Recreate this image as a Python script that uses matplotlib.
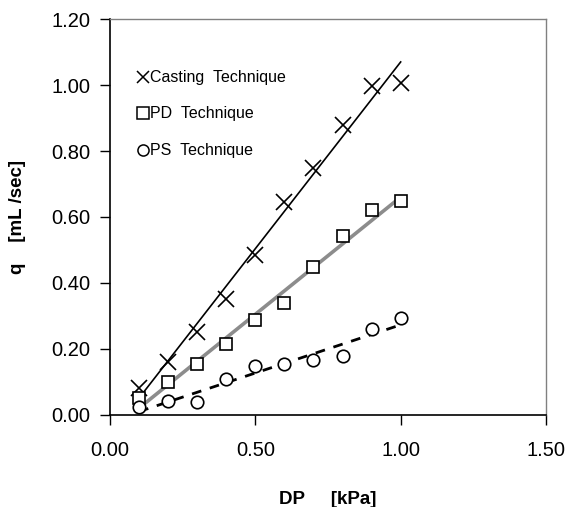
import numpy as np
import matplotlib
matplotlib.use('Agg')
import matplotlib.pyplot as plt

plt.rcParams['font.family'] = ['Liberation Sans', 'DejaVu Sans']

# pressure drop DP [kPa]
dp = [0.1, 0.2, 0.3, 0.4, 0.5, 0.6, 0.7, 0.8, 0.9, 1.0]

# flow rate q [mL/sec] for each technique
q_casting = [0.083, 0.16, 0.25, 0.35, 0.485, 0.645, 0.75, 0.88, 0.998, 1.005]
q_pd = [0.05, 0.10, 0.155, 0.214, 0.287, 0.340, 0.448, 0.543, 0.621, 0.648]
q_ps = [0.024, 0.042, 0.040, 0.110, 0.149, 0.154, 0.167, 0.179, 0.260, 0.293]

labels = ['Casting  Technique', 'PD  Technique', 'PS  Technique']

fig = plt.figure(figsize=(5.69, 5.07), dpi=100)
ax = fig.add_axes([0.1933, 0.1815, 0.7663, 0.781])

x = np.array(dp)

# linear trend lines
def trend(y):
    k, b = np.polyfit(x, y, 1)
    return k * x + b

ax.plot(x, trend(q_casting), color='black', lw=1.2, zorder=2)
ax.plot(x, trend(q_pd), color='#8c8c8c', lw=2.6, zorder=2)
ax.plot(x, trend(q_ps), color='black', lw=2.0, dashes=(3.5, 3.2), zorder=2)

ax.plot(x, q_casting, ls='none', marker='x', ms=11, mew=1.2, color='black', zorder=3)
ax.plot(x, q_pd, ls='none', marker='s', ms=9, mew=1.2, mfc='white', mec='black', zorder=3)
ax.plot(x, q_ps, ls='none', marker='o', ms=9, mew=1.2, mfc='white', mec='black', zorder=3)

# legend drawn as text with markers
leg_y = [1.024, 0.915, 0.803]
for lab, mk, yy in zip(labels, ['x', 's', 'o'], leg_y):
    ms = 9 if mk == 'x' else 8
    ax.plot([0.113], [yy], ls='none', marker=mk, ms=ms, mew=1.1,
            mfc='white', mec='black', color='black', clip_on=False)
    ax.text(0.138, yy, lab, fontsize=11.5, va='center', ha='left')

ax.set_xlim(0, 1.5)
ax.set_ylim(0, 1.2)
ax.set_xticks([0, 0.5, 1.0, 1.5])
ax.set_yticks(np.arange(0, 1.21, 0.2))
ax.set_xticklabels(['%.2f' % v for v in [0, 0.5, 1.0, 1.5]])
ax.set_yticklabels(['%.2f' % v for v in np.arange(0, 1.21, 0.2)])
ax.tick_params(direction='out', length=7, width=1, labelsize=14.5, pad=7)
ax.tick_params(axis='x', pad=12)

for s in ['left', 'bottom']:
    ax.spines[s].set_color('black')
    ax.spines[s].set_linewidth(1.2)
for s in ['top', 'right']:
    ax.spines[s].set_color('#808080')
    ax.spines[s].set_linewidth(1.0)

ax.set_xlabel('DP     [kPa]', fontsize=13.5, fontweight='bold', labelpad=22)
ax.set_ylabel('q    [mL /sec]', fontsize=13.5, fontweight='bold', labelpad=18)

fig.savefig('out.png', dpi=100)
